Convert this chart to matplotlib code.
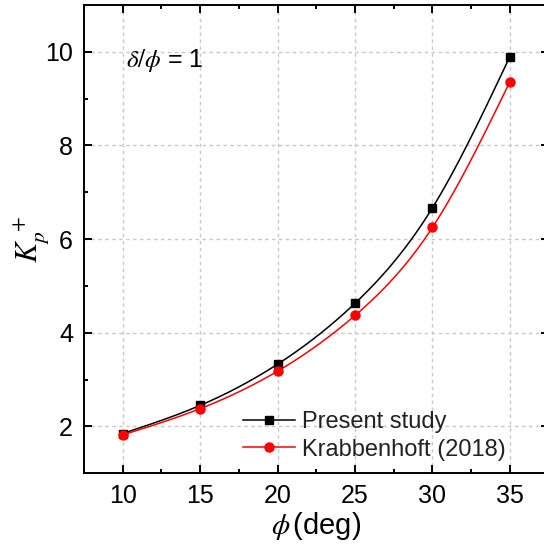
import matplotlib
matplotlib.use("Agg")
import matplotlib.pyplot as plt
import numpy as np
from matplotlib.ticker import MultipleLocator

plt.rcParams['font.family'] = ['Liberation Sans', 'DejaVu Sans']
plt.rcParams['mathtext.fontset'] = 'stix'

phi = [10, 15, 20, 25, 30, 35]
kp_present = [1.85, 2.45, 3.33, 4.63, 6.67, 9.90]
kp_krabbenhoft = [1.82, 2.38, 3.18, 4.37, 6.25, 9.36]


def spline_curve(x, y, n=200):
    # natural cubic spline through the points, for a smooth connecting line
    x = np.asarray(x, float)
    y = np.asarray(y, float)
    m = len(x)
    h = np.diff(x)
    A = np.zeros((m, m))
    b = np.zeros(m)
    A[0, 0] = A[-1, -1] = 1.0
    for i in range(1, m - 1):
        A[i, i - 1] = h[i - 1]
        A[i, i] = 2 * (h[i - 1] + h[i])
        A[i, i + 1] = h[i]
        b[i] = 6 * ((y[i + 1] - y[i]) / h[i] - (y[i] - y[i - 1]) / h[i - 1])
    M = np.linalg.solve(A, b)
    xs = np.linspace(x[0], x[-1], n)
    k = np.clip(np.searchsorted(x, xs) - 1, 0, m - 2)
    t0 = xs - x[k]
    t1 = x[k + 1] - xs
    hk = h[k]
    ys = (M[k] * t1**3 / (6 * hk) + M[k + 1] * t0**3 / (6 * hk)
          + (y[k] / hk - M[k] * hk / 6) * t1
          + (y[k + 1] / hk - M[k + 1] * hk / 6) * t0)
    return xs, ys


fig = plt.figure(figsize=(5.44, 5.48), dpi=100)
ax = fig.add_axes([0.1544, 0.1363, 0.8541, 0.8546])

xs, ys = spline_curve(phi, kp_present)
ax.plot(xs, ys, color='black', lw=1.1, zorder=3)
ax.plot(phi, kp_present, 's', color='black', ms=6, zorder=4)
xs, ys = spline_curve(phi, kp_krabbenhoft)
ax.plot(xs, ys, color='red', lw=1.1, zorder=3)
ax.plot(phi, kp_krabbenhoft, 'o', color='red', ms=6.5, zorder=4)

# legend proxies: line with marker in the middle
h1, = ax.plot([], [], '-s', color='black', lw=1.1, ms=6)
h2, = ax.plot([], [], '-o', color='red', lw=1.1, ms=6.5)
leg = ax.legend([h1, h2], ['Present study', 'Krabbenhoft (2018)'],
                loc='center left', bbox_to_anchor=(0.446, 0.2047),
                bbox_transform=fig.transFigure, frameon=False,
                fontsize=17, handlelength=2.2, handletextpad=0.33,
                labelspacing=0.24, borderpad=0, borderaxespad=0,
                numpoints=1)
for t in leg.get_texts():
    t.set_color('#222222')

ax.set_xlim(7.5, 37.5)
ax.set_ylim(1, 11)
ax.xaxis.set_major_locator(MultipleLocator(5))
ax.xaxis.set_minor_locator(MultipleLocator(2.5))
ax.yaxis.set_major_locator(MultipleLocator(2))
ax.yaxis.set_minor_locator(MultipleLocator(1))

ax.grid(True, which='major', color='#c8c8c8', linestyle=(0, (2.5, 2.5)), lw=1.0)
ax.set_axisbelow(True)

for s in ax.spines.values():
    s.set_linewidth(1.4)
ax.tick_params(which='both', direction='in', top=True, right=True, width=1.4)
ax.tick_params(which='major', length=6, labelsize=18, pad=8)
ax.tick_params(which='minor', length=3)

ax.set_xlabel(r'$\phi\,$(deg)', fontsize=21, labelpad=1)
ax.set_ylabel(r'$K_p^{\ +}$', fontsize=22)
ax.yaxis.set_label_coords(-0.069, 0.5)

ax.text(10.2, 9.81, r'$\delta/\phi$ = 1', fontsize=18, va='center', ha='left')

fig.savefig('out.png', dpi=100)
